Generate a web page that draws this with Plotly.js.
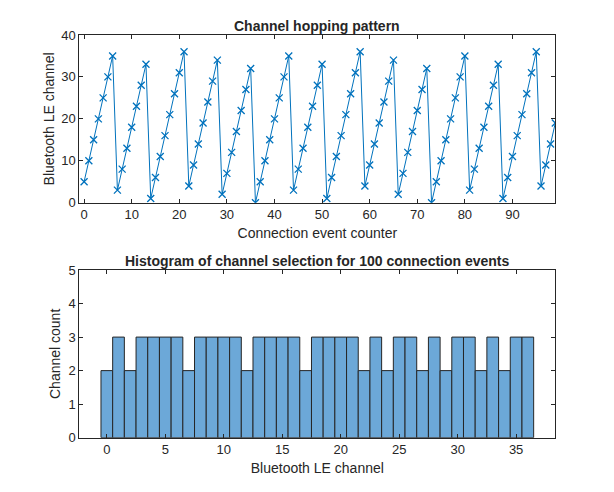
<!DOCTYPE html>
<html>
<head>
<meta charset="utf-8">
<script src="https://cdn.plot.ly/plotly-3.0.1.min.js"></script>
<style>
  html, body { margin: 0; padding: 0; background: #fff; }
  #canvas { width: 614px; height: 492px; }
</style>
</head>
<body>
<div id="canvas"></div>
<script>
// Channel used at each connection event (event counter 0..99)
var channels = [
  5, 10, 15, 20, 25, 30, 35, 3, 8, 13, 18, 23, 28, 33, 1, 6, 11, 16, 21, 26,
  31, 36, 4, 9, 14, 19, 24, 29, 34, 2, 7, 12, 17, 22, 27, 32, 0,
  5, 10, 15, 20, 25, 30, 35, 3, 8, 13, 18, 23, 28, 33, 1, 6, 11, 16, 21, 26,
  31, 36, 4, 9, 14, 19, 24, 29, 34, 2, 7, 12, 17, 22, 27, 32, 0,
  5, 10, 15, 20, 25, 30, 35, 3, 8, 13, 18, 23, 28, 33, 1, 6, 11, 16, 21, 26,
  31, 36, 4, 9, 14, 19
];
var xTicks1 = [0, 10, 20, 30, 40, 50, 60, 70, 80, 90];
var yTicks1 = [0, 10, 20, 30, 40];
var xTicks2 = [0, 5, 10, 15, 20, 25, 30, 35];
var yTicks2 = [0, 1, 2, 3, 4, 5];

var ink = '#262626';
var font = 'Liberation Sans, Arial, sans-serif';

var trace1 = {
  y: channels,
  type: 'scatter',
  mode: 'lines+markers',
  xaxis: 'x',
  yaxis: 'y',
  line: { color: 'rgb(0,114,189)', width: 1 },
  marker: { symbol: 'x-thin', size: 7, line: { color: 'rgb(0,114,189)', width: 1.3 } },
  showlegend: false
};

var trace2 = {
  x: channels,
  type: 'histogram',
  xaxis: 'x2',
  yaxis: 'y2',
  xbins: { start: -0.5, end: 36.5, size: 1 },
  marker: { color: 'rgb(108,168,216)', line: { color: ink, width: 1 } },
  showlegend: false
};

function axis(extra) {
  var a = {
    showline: true, mirror: 'ticks', linecolor: ink, linewidth: 1,
    ticks: 'inside', ticklen: 4, tickwidth: 1, tickcolor: ink,
    showgrid: false, zeroline: false,
    tickfont: { family: font, size: 13, color: ink }
  };
  for (var k in extra) a[k] = extra[k];
  return a;
}

var layout = {
  width: 614,
  height: 492,
  margin: { l: 0, r: 0, t: 0, b: 0 },
  paper_bgcolor: '#fff',
  plot_bgcolor: '#fff',
  bargap: 0,
  xaxis: axis({
    domain: [0.1292, 0.9044], anchor: 'y', range: [-1, 99],
    tickvals: xTicks1,
    title: { text: 'Connection event counter', font: { family: font, size: 14, color: ink }, standoff: 6 }
  }),
  yaxis: axis({
    domain: [0.588, 0.9289], anchor: 'x', range: [0, 40],
    tickvals: yTicks1,
    title: { text: 'Bluetooth LE channel', font: { family: font, size: 14, color: ink }, standoff: 3 }
  }),
  xaxis2: axis({
    domain: [0.1292, 0.9044], anchor: 'y2', range: [-2.35, 38.35],
    tickvals: xTicks2,
    title: { text: 'Bluetooth LE channel', font: { family: font, size: 14, color: ink }, standoff: 6 }
  }),
  yaxis2: axis({
    domain: [0.1104, 0.4512], anchor: 'x2', range: [0, 5],
    tickvals: yTicks2,
    title: { text: 'Channel count', font: { family: font, size: 14, color: ink }, standoff: 4 }
  }),
  annotations: [
    {
      text: '<b>Channel hopping pattern</b>', xref: 'paper', yref: 'paper',
      x: 0.5168, y: 0.9289, xanchor: 'center', yanchor: 'bottom', yshift: -1,
      showarrow: false, font: { family: font, size: 14, color: ink }
    },
    {
      text: '<b>Histogram of channel selection for 100 connection events</b>', xref: 'paper', yref: 'paper',
      x: 0.5168, y: 0.4512, xanchor: 'center', yanchor: 'bottom', yshift: -1,
      showarrow: false, font: { family: font, size: 14, color: ink }
    }
  ]
};

Plotly.newPlot('canvas', [trace1, trace2], layout, { staticPlot: true });
</script>
</body>
</html>
